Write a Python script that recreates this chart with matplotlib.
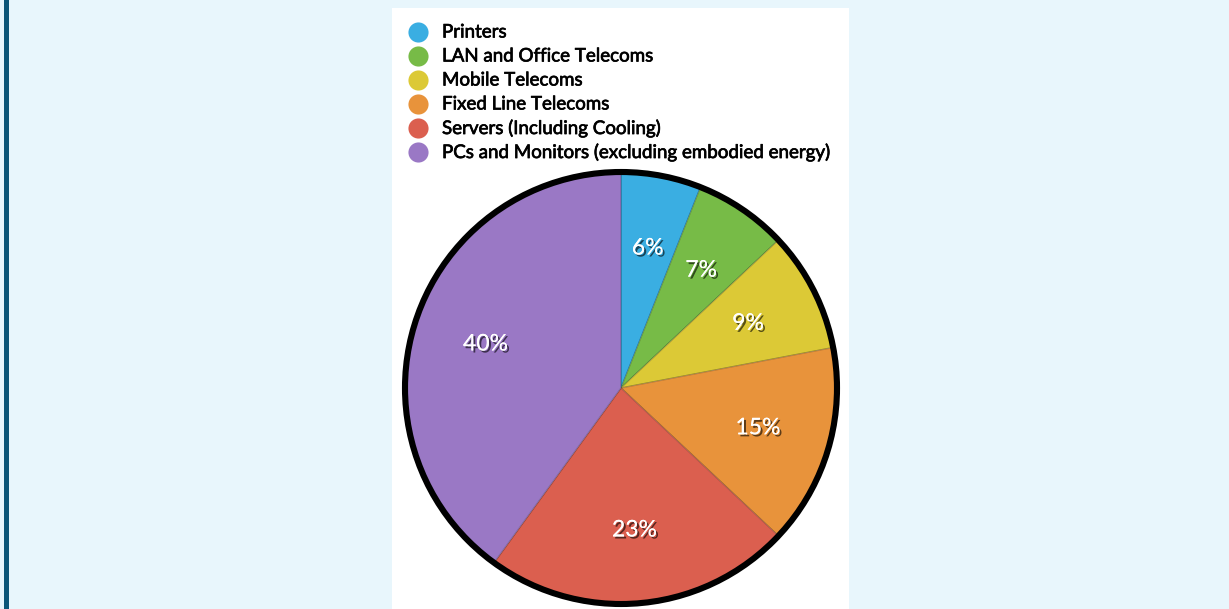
import matplotlib.pyplot as plt
import matplotlib.patheffects as pe
from matplotlib.patches import Rectangle, Circle

# Data ====================================================================== #
labels = ['Printers', 'LAN and Office Telecoms', 'Mobile Telecoms',
          'Fixed Line Telecoms', 'Servers (Including Cooling)',
          'PCs and Monitors (excluding embodied energy)']
shares = [6, 7, 9, 15, 23, 40]
colors = ['#3aaee2', '#77bb47', '#dcc936', '#e8933b', '#db5f4f', '#9a78c5']

plt.rcParams['font.family'] = ['Lato', 'DejaVu Sans']

W, H = 1229, 609
fig = plt.figure(figsize=(W / 100, H / 100), dpi=100, facecolor='#e8f6fc')
ax = fig.add_axes([0, 0, 1, 1])
ax.set_xlim(0, W)
ax.set_ylim(0, H)
ax.set_aspect('equal')
ax.axis('off')

# background panels --------------------------------------------------------- #
ax.add_patch(Rectangle((4, 0), 5, H, color='#0b5577', lw=0))
ax.add_patch(Rectangle((392, 0), 457, H - 8, color='white', lw=0))

# pie ----------------------------------------------------------------------- #
cx, cy, r = 621, H - 388, 216
wedges, _, autotexts = ax.pie(
    shares, colors=colors, startangle=90, counterclock=False,
    center=(cx, cy), radius=r, autopct='%d%%', pctdistance=0.66,
    wedgeprops=dict(edgecolor=(0, 0, 0, 0.18), linewidth=1.0),
    textprops=dict(color='white', fontsize=16.5))
for t in autotexts:
    t.set_path_effects([pe.withSimplePatchShadow(offset=(1.5, -1.5),
                                                 shadow_rgbFace='black',
                                                 alpha=0.6), pe.Normal()])
ax.add_patch(Circle((cx, cy), r, fill=False, edgecolor='black', lw=4.4))
ax.set_xlim(0, W)
ax.set_ylim(0, H)

# legend -------------------------------------------------------------------- #
for i, (lab, col) in enumerate(zip(labels, colors)):
    y = H - (32 + 24 * i)
    ax.scatter([418], [y], s=210, color=col, lw=0)
    ax.text(442, y, lab, fontsize=13.5, color='black', va='center', ha='left',
            path_effects=[pe.withStroke(linewidth=0.5, foreground='black')])

fig.savefig('out.png', dpi=100, facecolor=fig.get_facecolor())
